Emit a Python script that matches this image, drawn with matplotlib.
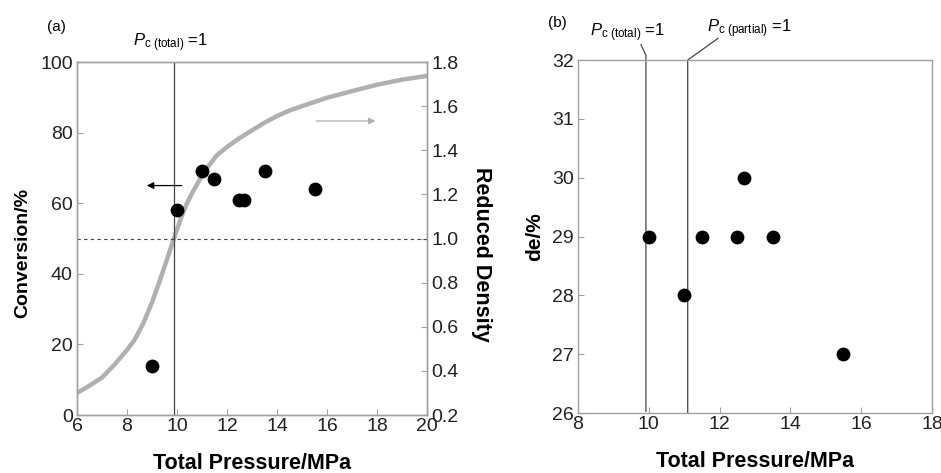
import matplotlib
matplotlib.use("Agg")
import matplotlib.pyplot as plt

plt.rcParams["font.family"] = ["Liberation Sans", "DejaVu Sans"]
plt.rcParams["mathtext.fontset"] = "custom"
plt.rcParams["mathtext.rm"] = "Liberation Sans"
plt.rcParams["mathtext.it"] = "Liberation Sans:italic"

# panel (a): conversion vs total pressure
conv_pressure = [9.0, 10.0, 11.0, 11.5, 12.5, 12.7, 13.5, 15.5]
conversion = [14, 58, 69, 67, 61, 61, 69, 64]

# reduced density curve (right axis)
rd_pressure = [6, 6.5, 7, 7.5, 8, 8.3, 8.65, 9, 9.3, 9.6, 9.8, 10.0, 10.2, 10.4,
               10.6, 10.9, 11.2, 11.6, 12, 12.5, 13, 13.5, 14, 14.5, 15, 16, 17,
               18, 19, 20]
reduced_density = [0.30, 0.333, 0.37, 0.428, 0.495, 0.54, 0.615, 0.71, 0.805,
                   0.905, 0.975, 1.04, 1.105, 1.16, 1.205, 1.265, 1.32, 1.378,
                   1.415, 1.455, 1.49, 1.525, 1.555, 1.58, 1.60, 1.638, 1.668,
                   1.697, 1.72, 1.737]

# panel (b): de vs total pressure
de_pressure = [10.0, 11.0, 11.5, 12.5, 12.7, 13.5, 15.5]
de_values = [29, 28, 29, 29, 30, 29, 27]

pc_total = 9.88
pc_total_b = 9.92
pc_partial = 11.1

spine_gray = "#a0a0a0"
line_dark = "#444444"
curve_gray = "#b0b0b0"


def style_axes(ax):
    for s in ax.spines.values():
        s.set_color(spine_gray)
        s.set_linewidth(1.0)
    ax.tick_params(direction="in", length=4, width=0.8, color=spine_gray,
                   labelsize=14, labelcolor="#222222", pad=3)


fig = plt.figure(figsize=(9.41, 4.73), dpi=100)

# ---------- (a) ----------
ax1 = fig.add_axes([0.0818, 0.1226, 0.372, 0.7463])
style_axes(ax1)
ax1.set_xlim(6, 20)
ax1.set_ylim(0, 100)
ax1.set_xticks(range(6, 21, 2))
ax1.set_yticks(range(0, 101, 20))
ax1.tick_params(axis="x", pad=2)

ax1.axvline(pc_total, color=line_dark, lw=0.9)
ax1.axhline(50, color=line_dark, lw=0.8, ls=(0, (3, 3)))
ax1.scatter(conv_pressure, conversion, s=80, color="black", zorder=5)

ax1.annotate("", xy=(8.68, 65), xytext=(10.3, 65),
             arrowprops=dict(arrowstyle="-|>", color="black", lw=0.9,
                             mutation_scale=10))
ax1.annotate("", xy=(18.05, 83.3), xytext=(15.45, 83.3),
             arrowprops=dict(arrowstyle="-|>", color=curve_gray, lw=0.9,
                             mutation_scale=10))

ax1.set_xlabel("Total Pressure/MPa", fontsize=15.5, fontweight="bold", labelpad=13)
ax1.set_ylabel("Conversion/%", fontsize=14, fontweight="bold")
ax1.yaxis.set_label_coords(-0.13, 0.46)
ax1.text(9.75, 105.4, r"$P_{\mathrm{c\ (total)}}$ =1", ha="center", va="center",
         fontsize=12)
ax1.text(-0.085, 1.098, "(a)", transform=ax1.transAxes, ha="left", va="center",
         fontsize=11)

ax1r = ax1.twinx()
style_axes(ax1r)
ax1r.set_ylim(0.2, 1.8)
ax1r.set_yticks([0.2, 0.4, 0.6, 0.8, 1.0, 1.2, 1.4, 1.6, 1.8])
ax1r.set_yticklabels(["0.2", "0.4", "0.6", "0.8", "1.0", "1.2", "1.4", "1.6", "1.8"])
ax1r.plot(rd_pressure, reduced_density, color=curve_gray, lw=3.2,
          solid_capstyle="butt", solid_joinstyle="round", zorder=2)
ax1r.set_ylabel("Reduced Density", fontsize=15.5, fontweight="bold", rotation=270)
ax1r.yaxis.set_label_coords(1.185, 0.455)
ax1.set_zorder(ax1r.get_zorder() + 1)
ax1.patch.set_visible(False)

# ---------- (b) ----------
ax2 = fig.add_axes([0.6142, 0.1268, 0.3762, 0.7463])
style_axes(ax2)
ax2.set_xlim(8, 18)
ax2.set_ylim(26, 32)
ax2.set_xticks(range(8, 19, 2))
ax2.set_yticks(range(26, 33))
ax2.tick_params(axis="x", pad=2)

ax2.plot([pc_total_b, pc_total_b, 9.78], [26.03, 32.08, 32.26], color=line_dark,
         lw=0.9, clip_on=False)
ax2.plot([pc_partial, pc_partial, 11.96], [26.0, 32.0, 32.37], color=line_dark,
         lw=0.9, clip_on=False)
ax2.scatter(de_pressure, de_values, s=80, color="black", zorder=5)

ax2.text(9.41, 32.46, r"$P_{\mathrm{c\ (total)}}$ =1", ha="center", va="center",
         fontsize=12)
ax2.text(12.83, 32.54, r"$P_{\mathrm{c\ (partial)}}$ =1", ha="center", va="center",
         fontsize=12)
ax2.text(-0.085, 1.105, "(b)", transform=ax2.transAxes, ha="left", va="center",
         fontsize=11)
ax2.set_xlabel("Total Pressure/MPa", fontsize=15.5, fontweight="bold", labelpad=13)
ax2.set_ylabel("de/%", fontsize=15, fontweight="bold")
ax2.yaxis.set_label_coords(-0.095, 0.5)

fig.savefig("out.png", dpi=100)
plt.close(fig)
